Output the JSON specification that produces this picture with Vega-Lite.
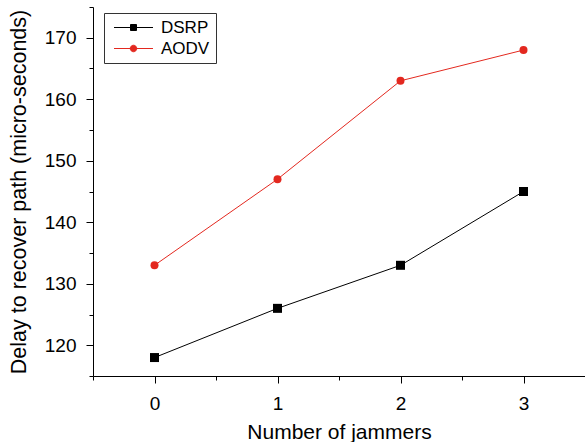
{
  "$schema": "https://vega.github.io/schema/vega-lite/v6.json",
  "width": 492,
  "height": 369,
  "autosize": {"type": "none"},
  "padding": {"left": 93, "top": 7, "right": 0, "bottom": 66},
  "background": "#ffffff",
  "config": {
    "view": {"stroke": null},
    "font": "Liberation Sans",
    "axis": {
      "grid": false,
      "domainColor": "#000000",
      "domainWidth": 1,
      "tickColor": "#000000",
      "tickWidth": 1,
      "labelColor": "#000000",
      "titleColor": "#000000",
      "labelFont": "Liberation Sans",
      "titleFont": "Liberation Sans",
      "titleFontWeight": "normal",
      "labelFontSize": 19,
      "titleFontSize": 21
    }
  },
  "data": {
    "values": [
      {"jammers": 0, "delay": 118, "protocol": "DSRP"},
      {"jammers": 1, "delay": 126, "protocol": "DSRP"},
      {"jammers": 2, "delay": 133, "protocol": "DSRP"},
      {"jammers": 3, "delay": 145, "protocol": "DSRP"},
      {"jammers": 0, "delay": 133, "protocol": "AODV"},
      {"jammers": 1, "delay": 147, "protocol": "AODV"},
      {"jammers": 2, "delay": 163, "protocol": "AODV"},
      {"jammers": 3, "delay": 168, "protocol": "AODV"}
    ]
  },
  "layer": [
    {
      "description": "Legend key layer: line-and-marker glyphs for the legend, plus minor ticks",
      "mark": {"type": "point", "filled": true, "opacity": 0},
      "encoding": {
        "x": {
          "field": "jammers",
          "type": "quantitative",
          "scale": {"domain": [-0.5, 3.5], "nice": false, "zero": false},
          "axis": {
            "orient": "bottom",
            "values": [-0.5, 0.5, 1.5, 2.5, 3.5],
            "labels": false,
            "domain": false,
            "tickSize": 4,
            "title": null
          }
        },
        "y": {
          "field": "delay",
          "type": "quantitative",
          "scale": {"domain": [115, 175], "nice": false, "zero": false},
          "axis": {
            "orient": "left",
            "values": [115, 125, 135, 145, 155, 165, 175],
            "labels": false,
            "domain": false,
            "tickSize": 4,
            "title": null
          }
        },
        "color": {
          "field": "protocol",
          "type": "nominal",
          "scale": {"domain": ["DSRP", "AODV"], "range": ["#000000", "#e3281f"]},
          "legend": {
            "orient": "none",
            "legendX": 11,
            "legendY": 6,
            "title": null,
            "padding": 6,
            "strokeColor": "#333333",
            "labelFont": "Liberation Sans",
            "labelFontSize": 17,
            "labelColor": "#000000",
            "labelLimit": 200,
            "symbolSize": 100,
            "symbolOffset": 15,
            "labelOffset": 19,
            "rowPadding": 3,
            "symbolOpacity": 1,
            "symbolStrokeWidth": 1
          }
        },
        "stroke": {
          "field": "protocol",
          "type": "nominal",
          "scale": {"domain": ["DSRP", "AODV"], "range": ["#000000", "#e3281f"]}
        },
        "shape": {
          "field": "protocol",
          "type": "nominal",
          "scale": {
            "domain": ["DSRP", "AODV"],
            "range": [
              "M-3.9,0H3.9M-0.6,-0.6H0.6V0.6H-0.6Z",
              "M-3.9,0H3.9M0.65,0A0.65,0.65,0,1,1,-0.65,0A0.65,0.65,0,1,1,0.65,0Z"
            ]
          }
        }
      }
    },
    {
      "mark": {"type": "line", "strokeWidth": 1},
      "encoding": {
        "x": {
          "field": "jammers",
          "type": "quantitative",
          "axis": {
            "orient": "bottom",
            "values": [0, 1, 2, 3],
            "format": "d",
            "title": "Number of jammers",
            "tickSize": 7,
            "labelPadding": 11,
            "titlePadding": 8,
            "labelFlush": false,
            "labelOverlap": false
          }
        },
        "y": {
          "field": "delay",
          "type": "quantitative",
          "axis": {
            "orient": "left",
            "values": [120, 130, 140, 150, 160, 170],
            "title": "Delay to recover path (micro-seconds)",
            "titleFontSize": 21.5,
            "tickSize": 7,
            "labelPadding": 10,
            "titlePadding": 14,
            "labelFlush": false,
            "labelOverlap": false
          }
        },
        "color": {"field": "protocol", "type": "nominal"}
      }
    },
    {
      "transform": [{"filter": "datum.protocol === 'DSRP'"}],
      "mark": {"type": "square", "size": 81, "opacity": 1, "strokeWidth": 0},
      "encoding": {
        "x": {"field": "jammers", "type": "quantitative", "axis": null},
        "y": {"field": "delay", "type": "quantitative", "axis": null},
        "color": {"field": "protocol", "type": "nominal"}
      }
    },
    {
      "transform": [{"filter": "datum.protocol === 'AODV'"}],
      "mark": {"type": "circle", "size": 64, "opacity": 1, "strokeWidth": 0},
      "encoding": {
        "x": {"field": "jammers", "type": "quantitative", "axis": null},
        "y": {"field": "delay", "type": "quantitative", "axis": null},
        "color": {"field": "protocol", "type": "nominal"}
      }
    }
  ],
  "resolve": {"axis": {"x": "independent", "y": "independent"}}
}
